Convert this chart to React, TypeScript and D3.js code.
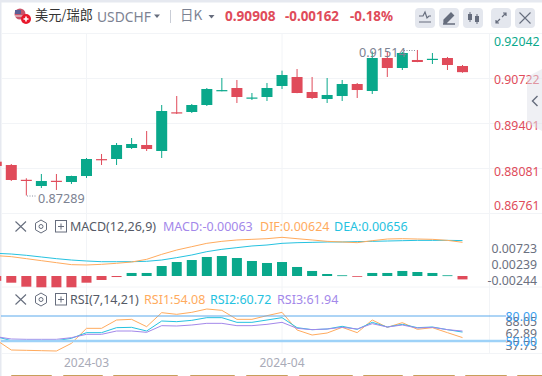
import React from "react";
import * as d3 from "d3";

// index -1 .. 30 (the first candle is cut by the left edge)
const opens = [0.88281,0.88184,0.8775,0.87568,0.87721,0.87685,0.87861,0.88357,0.8836,0.88683,0.88771,0.88595,0.8973,0.89739,0.89944,0.9037,0.90443,0.90152,0.90179,0.90502,0.90766,0.90326,0.9012,0.90208,0.9056,0.90355,0.91323,0.9103,0.91265,0.91288,0.91323,0.91088];
const closes = [0.88155,0.87744,0.87738,0.87715,0.87709,0.87861,0.8836,0.88345,0.88771,0.888,0.88653,0.89768,0.89718,0.89944,0.90414,0.90382,0.90179,0.90164,0.90443,0.90824,0.90296,0.9015,0.90238,0.9056,0.90384,0.91323,0.9103,0.9147,0.91206,0.913,0.91118,0.90908];
const highs = [0.883,0.88213,0.87795,0.8792,0.8792,0.8787,0.88389,0.88507,0.88829,0.88976,0.89181,0.89944,0.90208,0.89974,0.90443,0.90736,0.90678,0.90296,0.9059,0.90951,0.91,0.90766,0.90736,0.90678,0.9059,0.91514,0.91499,0.91499,0.91558,0.9147,0.91353,0.91118];
const lows = [0.8813,0.87715,0.87289,0.87509,0.87451,0.87627,0.87803,0.88184,0.88184,0.88653,0.88595,0.88389,0.8968,0.8971,0.89915,0.90346,0.90003,0.90091,0.90062,0.90414,0.9029,0.9012,0.90003,0.90062,0.9015,0.90267,0.90766,0.90971,0.912,0.91147,0.90971,0.9089];

const macdBars = [-0.0009,-0.00124,-0.00198,-0.00209,-0.00209,-0.00209,-0.00124,-0.00074,-0.00019,0.00056,0.00056,0.00185,0.00259,0.00296,0.00352,0.0037,0.00333,0.00278,0.00241,0.00259,0.00167,0.00093,0.00037,0.00013,-0.00013,0.00056,0.00056,0.00093,0.00074,0.00056,0.00013,-0.00063];
const deaLine = [0.0042,0.00407,0.00383,0.00352,0.00321,0.00296,0.00278,0.00265,0.00265,0.00265,0.00272,0.00296,0.0034,0.00389,0.00451,0.00494,0.00525,0.00556,0.00574,0.00605,0.00617,0.00623,0.0063,0.0063,0.00636,0.00642,0.00648,0.00654,0.0066,0.0066,0.0066,0.00656];
const difLine = [0.00377,0.00358,0.00321,0.00284,0.00247,0.0021,0.00204,0.00216,0.00235,0.00259,0.00309,0.00401,0.00481,0.00543,0.00605,0.00642,0.00667,0.00679,0.00691,0.00716,0.00691,0.00667,0.00642,0.0063,0.00617,0.00654,0.00685,0.00691,0.00685,0.00679,0.0066,0.00624];

const rsi1 = [51.2,39.2,38.8,38.4,38,47.2,65.2,65.2,75.2,76,67.2,84,82,84.4,88.4,86.8,76,76,80.4,84.4,63.2,57.2,59.6,66.4,60,75.2,66.4,72,64,66,60,54.08];
const rsi2 = [55.2,50.4,50.4,50.4,50.4,53.2,60,60,66,66.4,62,74,73.2,74.8,78,78,72.4,72.4,75.2,78,66,63.6,64.4,67.6,64,72.4,66.8,70,66,66.8,63.6,60.72];
const rsi3 = [55.2,52.4,52,52,52,54,58,58,62,62,60.4,68.4,68,69.2,71.2,71.2,68.4,68.4,70,72.4,65.2,63.6,64.4,66.4,64.4,70.8,66.8,69.2,65.6,66.4,63.6,61.94];

const priceTicks = [0.92042, 0.90722, 0.89401, 0.88081, 0.86761];
const priceTickText = ["0.92042", "0.90722", "0.89401", "0.88081", "0.86761"];
const macdTicks = [0.00723, 0.00239, -0.00244];
const rsiLevels = [80, 50];
const rsiTicks = [88.05, 62.89, 37.73];
const dateTicks = [{ label: "2024-03", index: 6 }, { label: "2024-04", index: 19 }];
const footerTabs = [[11,52],[63,103],[113,178],[190,235],[246,288],[299,353],[363,403],[413,455],[465,507],[517,560]];

const GREEN = "#09a88b";
const RED = "#e04b5a";
const ORANGE = "#ffab5e";
const CYAN = "#25c2e0";
const PURPLE = "#a388ea";
const GRID = "#f2f4f7";
const LATIN = "'Noto Sans', sans-serif";
const CJK = "'Noto Sans CJK SC', sans-serif";

const x = d3.scaleLinear().domain([0, 31]).range([-3.75, 462.5]);
const yPrice = d3.scaleLinear().domain([0.86761, 0.92042]).range([213.5, 33.5]);
const yPriceLabel = d3.scaleLinear().domain([0.86761, 0.88081, 0.89401, 0.90722, 0.92042]).range([205.5, 171, 125, 79.5, 41]);
const yMacd = d3.scaleLinear().domain([0, 0.01]).range([276, 222]);
const yMacdLabel = d3.scaleLinear().domain([-0.00244, 0.00723]).range([280, 248.7]);
const yRsi = d3.scaleLinear().domain([50, 80]).range([341, 316]);
const yRsiLabel = d3.scaleLinear().domain([37.73, 88.05]).range([345, 321.5]);

const lineOf = (scale: d3.ScaleLinear<number, number>) =>
  d3.line<number>().x((_, i) => x(i)).y((d) => scale(d));

function PaneHeader({ y, name, items }: { y: number; name: string; items: { t: string; c: string; x: number }[] }) {
  return (
    <g>
      <path d={`M15.5 ${y - 5}L26 ${y + 5}M26 ${y - 5}L15.5 ${y + 5}`} stroke="#666d7d" strokeWidth="1.1" fill="none" />
      <path d={`M41 ${y - 6.5}L46.5 ${y - 3.3}V${y + 3.3}L41 ${y + 6.5}L35.5 ${y + 3.3}V${y - 3.3}Z`} stroke="#666d7d" strokeWidth="1" fill="none" />
      <circle cx="41" cy={y} r="2" stroke="#666d7d" fill="none" />
      <rect x="55.5" y={y - 6} width="11" height="11.5" stroke="#666d7d" fill="none" />
      <path d={`M58 ${y}H64M61 ${y - 3}V${y + 3}`} stroke="#666d7d" fill="none" />
      <text x="70" y={y + 4} fontSize="12.5" fill="#555a66" fontFamily={LATIN}>{name}</text>
      {items.map((d) => (
        <text key={d.t} x={d.x} y={y + 4} fontSize="12.5" fill={d.c} fontFamily={LATIN}>{d.t}</text>
      ))}
    </g>
  );
}

function IconButton({ x0, children }: { x0: number; children: React.ReactNode }) {
  return (
    <g transform={`translate(${x0},8)`}>
      <rect width="20" height="20" rx="4" fill="#e4e7ee" />
      {children}
    </g>
  );
}

export default function App() {
  const dark = "#666d7d";
  return (
    <svg width={542} height={376} style={{ position: "absolute", left: 0, top: 0, background: "#fff" }}>
      <rect x="0" y="0" width="542" height="2.5" fill="#e6e9f0" />
      <rect x="0" y="0" width="1.5" height="376" fill="#e6e9f0" />

      {/* header */}
      <g>
        <circle cx="20" cy="14" r="5.5" fill="#c8546a" />
        <rect x="15" y="10" width="6" height="4" fill="#5a5f95" />
        <path d="M15 16H25" stroke="#eee" strokeWidth="1" />
        <circle cx="26" cy="19" r="5" fill="#e8182c" />
        <path d="M23.5 19H28.5M26 16.5V21.5" stroke="#fff" strokeWidth="1.6" />
      </g>
      <text x="35" y="20" fontSize="13.2" fill="#333" fontFamily={CJK}>美元/瑞郎</text>
      <text x="97" y="21.5" fontSize="13.8" fill="#7c8292" fontFamily={LATIN}>USDCHF</text>
      <path d="M154 14.5H160L157 18Z" fill="#666d7d" />
      <rect x="170" y="10" width="1" height="13" fill="#c9cdd6" />
      <text x="180" y="20" fontSize="13.5" fill="#7c8292" fontFamily={CJK}>日K</text>
      <path d="M208.5 15H214.5L211.5 18.5Z" fill="#666d7d" />
      <text x="225" y="20.5" fontSize="13.6" fontWeight="700" fill={RED} fontFamily={LATIN}>0.90908</text>
      <text x="285" y="20.5" fontSize="13.4" fontWeight="700" fill={RED} fontFamily={LATIN}>-0.00162</text>
      <text x="350" y="20.5" fontSize="13.4" fontWeight="700" fill={RED} fontFamily={LATIN}>-0.18%</text>

      <IconButton x0={415}>
        <path d="M4 8L8 8L10 4L12 10L14 8H16M4 14H16" stroke={dark} strokeWidth="1.2" fill="none" />
      </IconButton>
      <IconButton x0={439}>
        <path d="M5 12L12 5L14.5 7.5L7.5 14.5H5ZM4 16H16" stroke={dark} strokeWidth="1.3" fill={dark} />
      </IconButton>
      <IconButton x0={463}>
        <path d="M7 4V14M14 6V16" stroke={dark} />
        <rect x="5" y="6" width="4" height="6" fill={dark} />
        <rect x="12" y="8" width="4" height="6" fill={dark} />
      </IconButton>
      <IconButton x0={491}>
        <path d="M11 9L15 5M9 11L5 15M12 5H15V8M5 12V15H8" stroke={dark} strokeWidth="1.2" fill="none" />
      </IconButton>
      <IconButton x0={515}>
        <path d="M4.5 4.5L15.5 15.5M15.5 4.5L4.5 15.5" stroke={dark} strokeWidth="1.1" />
      </IconButton>

      {/* grid */}
      {priceTicks.map((t) => (
        <line key={t} x1="1" x2="542" y1={yPrice(t)} y2={yPrice(t)} stroke={GRID} />
      ))}
      <line x1="489.5" x2="489.5" y1="33" y2="353" stroke={GRID} />
      <line x1="1" x2="542" y1="287" y2="287" stroke={GRID} />
      <line x1="1" x2="542" y1="353.5" y2="353.5" stroke={GRID} />
      {dateTicks.map((d) => (
        <line key={d.label} x1={x(d.index)} x2={x(d.index)} y1="33" y2="353" stroke={GRID} />
      ))}

      {/* candles */}
      {opens.map((o, i) => {
        const c = closes[i];
        const color = c >= o ? GREEN : RED;
        const top = yPrice(Math.max(o, c));
        const h = Math.max(1.2, yPrice(Math.min(o, c)) - top);
        return (
          <g key={i}>
            <line x1={x(i)} x2={x(i)} y1={yPrice(highs[i])} y2={yPrice(lows[i])} stroke={color} strokeWidth="1" />
            <rect x={x(i) - 5.5} y={top} width="11" height={h} fill={color} />
          </g>
        );
      })}
      <text x="359" y="56.5" fontSize="12.6" fill="#7c8292" fontFamily={LATIN}>0.91514</text>
      <line x1="404" x2="416" y1="50.5" y2="50.5" stroke="#8a90a0" strokeDasharray="1 1.5" />
      <text x="38" y="202.5" fontSize="12.6" fill="#7c8292" fontFamily={LATIN}>0.87289</text>
      <line x1="27" x2="37" y1="196" y2="196" stroke="#8a90a0" strokeDasharray="1 1.5" />

      {priceTicks.map((t, i) => (
        <text key={t} x="494" y={yPriceLabel(t) + 4.5} fontSize="12.3" fill={i === 0 ? GREEN : RED} fontFamily={LATIN}>{priceTickText[i]}</text>
      ))}

      {/* MACD */}
      <PaneHeader y={226.5} name="MACD(12,26,9)" items={[
        { t: "MACD:-0.00063", c: PURPLE, x: 163 },
        { t: "DIF:0.00624", c: ORANGE, x: 260 },
        { t: "DEA:0.00656", c: CYAN, x: 334 },
      ]} />
      {macdBars.map((v, i) => (
        <rect key={i} x={x(i) - 5} y={Math.min(yMacd(v), yMacd(0))} width="10" height={Math.max(0.8, Math.abs(yMacd(v) - yMacd(0)))} fill={v >= 0 ? GREEN : RED} />
      ))}
      <path d={lineOf(yMacd)(deaLine) ?? ""} fill="none" stroke={CYAN} strokeWidth="1" />
      <path d={lineOf(yMacd)(difLine) ?? ""} fill="none" stroke={ORANGE} strokeWidth="1" />
      {macdTicks.map((t) => (
        <text key={t} x="537" y={yMacdLabel(t) + 4.5} textAnchor="end" fontSize="12.3" fill="#6b7080" fontFamily={LATIN}>{t.toFixed(5)}</text>
      ))}

      {/* RSI */}
      <PaneHeader y={299.5} name="RSI(7,14,21)" items={[
        { t: "RSI1:54.08", c: ORANGE, x: 144 },
        { t: "RSI2:60.72", c: CYAN, x: 210 },
        { t: "RSI3:61.94", c: PURPLE, x: 277 },
      ]} />
      <path d={lineOf(yRsi)(rsi1) ?? ""} fill="none" stroke={ORANGE} strokeWidth="1" />
      <path d={lineOf(yRsi)(rsi2) ?? ""} fill="none" stroke={CYAN} strokeWidth="1" />
      <path d={lineOf(yRsi)(rsi3) ?? ""} fill="none" stroke={PURPLE} strokeWidth="1" />
      {rsiLevels.map((l) => (
        <line key={l} x1="1" x2="506" y1={yRsi(l)} y2={yRsi(l)} stroke={l === 80 ? "#5aa9ec" : "#9ed2f8"} strokeWidth={l === 80 ? 1 : 2.4} />
      ))}
      {rsiTicks.map((t) => (
        <text key={t} x="537" y={yRsiLabel(t) + 4.5} textAnchor="end" fontSize="12.3" fill="#6b7080" fontFamily={LATIN}>{t.toFixed(2)}</text>
      ))}
      {rsiLevels.map((l) => (
        <text key={l} x="537" y={yRsi(l) + 4.5} textAnchor="end" fontSize="12.3" fill="#3aa0f0" fontFamily={LATIN}>{l.toFixed(2)}</text>
      ))}

      {dateTicks.map((d) => (
        <text key={d.label} x={x(d.index)} y="366.5" textAnchor="middle" fontSize="12" fill="#a9abb8" fontFamily={LATIN}>{d.label}</text>
      ))}

      {/* collapse tab */}
      <path d="M542 69L527 77V123L542 131Z" fill="#dfe2ea" fillOpacity="0.5" />
      <path d="M537.5 96L532.5 101L537.5 106" fill="none" stroke="#666d7d" strokeWidth="1.4" />

      {footerTabs.map(([a, b]) => (
        <rect key={a} x={a} y="375" width={b - a} height="3" rx="1" fill="#c89f5b" />
      ))}
    </svg>
  );
}
